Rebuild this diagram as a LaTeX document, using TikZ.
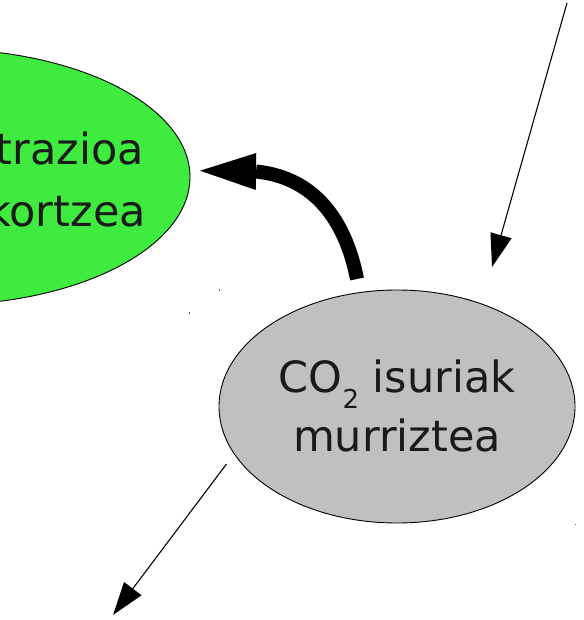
\documentclass[tikz,border=0pt]{standalone}
\usepackage{fontspec}
\setmainfont{DejaVu Sans}
\usetikzlibrary{shapes.geometric,arrows.meta}
\definecolor{goalgreen}{RGB}{62,235,62}
\definecolor{actiongray}{RGB}{192,192,192}
\definecolor{inktext}{RGB}{26,26,26}
\tikzset{
  bubble/.style={ellipse, draw=black, line width=0.9pt, inner sep=0pt},
  bigtext/.style={text=inktext, font=\fontsize{43}{60}\selectfont, inner sep=0pt},
  thinlink/.style={line width=1.1pt, -{Triangle[length=33pt,width=22pt,line width=0pt]}},
  thicklink/.style={line width=14pt, -{Triangle[length=56pt,width=37pt,line width=0pt]}},
  speck/.style={fill=black!60},
}
\begin{document}
\begin{tikzpicture}[x=1pt,y=-1pt]
  \useasboundingbox (0,0) rectangle (583,620);
  \clip (0,0) rectangle (583,620);

  % green goal bubble, running off the left edge
  \node[bubble, fill=goalgreen, minimum width=500pt, minimum height=256pt] (goal) at (-60,177) {};
  \node[bigtext, anchor=base east] (goalA) at (144,165) {trazioa};
  \node[bigtext, anchor=base east] (goalB) at (146,226.5) {kortzea};

  % grey action bubble
  \node[bubble, fill=actiongray, minimum width=356pt, minimum height=233pt] (co2) at (397,406.5) {};
  \node[bigtext, anchor=base] (co2A) at (397,392)
    {CO\raisebox{-16pt}{\fontsize{26}{26}\selectfont 2} isuriak};
  \node[bigtext, anchor=base] (co2B) at (397,451.5) {murriztea};

  % connector end points
  \coordinate (inTop) at (567,3);
  \coordinate (inTip) at (492,267);
  \coordinate (outStart) at (226.5,464);
  \coordinate (outTip) at (113,615);
  \coordinate (upStart) at (357,279);
  \coordinate (upBend) at (256,171.5);
  \coordinate (upTip) at (200,170.7);

  % thin arrows
  \draw[thinlink] (inTop) -- (inTip);
  \draw[thinlink] (outStart) -- (outTip);

  % heavy curved arrow from the grey bubble towards the green one
  \draw[thicklink] (upStart) .. controls (347,228) and (320,178) .. (upBend) -- (upTip);

  % stray specks
  \fill[speck] (218.8,289.3) rectangle (220.2,290.8);
  \fill[speck] (188.8,312) rectangle (190,314);
  \fill[speck] (574.5,523.5) rectangle (575.7,525);
\end{tikzpicture}
\end{document}
